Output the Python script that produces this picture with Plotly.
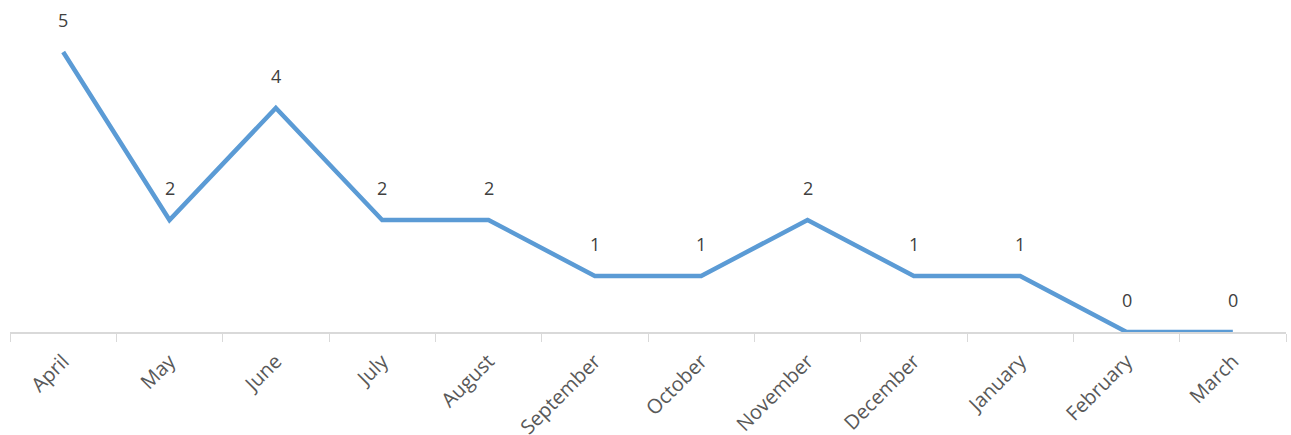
import plotly.graph_objects as go

months = ["April", "May", "June", "July", "August", "September", "October",
          "November", "December", "January", "February", "March"]
values = [5, 2, 4, 2, 2, 1, 1, 2, 1, 1, 0, 0]

fig = go.Figure()
fig.add_trace(go.Scatter(
    x=months, y=values, mode="lines",
    line=dict(color="#5B9BD5", width=4.5),
    cliponaxis=False, hoverinfo="skip",
))

for m, v in zip(months, values):
    fig.add_annotation(x=m, y=v, text=str(v), showarrow=False,
                       yanchor="middle", yshift=32,
                       font=dict(family="Open Sans", size=18, color="#404040"))

fig.update_layout(
    width=1291, height=435,
    margin=dict(l=10, r=5, t=10, b=103),
    paper_bgcolor="white", plot_bgcolor="white",
    showlegend=False,
    font=dict(family="Open Sans"),
)
fig.update_xaxes(
    type="category", tickangle=-45, tickson="boundaries",
    ticks="outside", ticklen=8, tickcolor="#D9D9D9", tickwidth=1,
    showline=True, linecolor="#D9D9D9", linewidth=1.5,
    showgrid=False, zeroline=False, automargin=False,
    tickfont=dict(family="Open Sans", size=20, color="#595959"),
    ticklabelstandoff=8,
    range=[-0.5, 11.5],
)
fig.update_yaxes(
    range=[0, 5.75], visible=False, showgrid=False, zeroline=False,
    automargin=False,
)

fig.write_html("out.html")
